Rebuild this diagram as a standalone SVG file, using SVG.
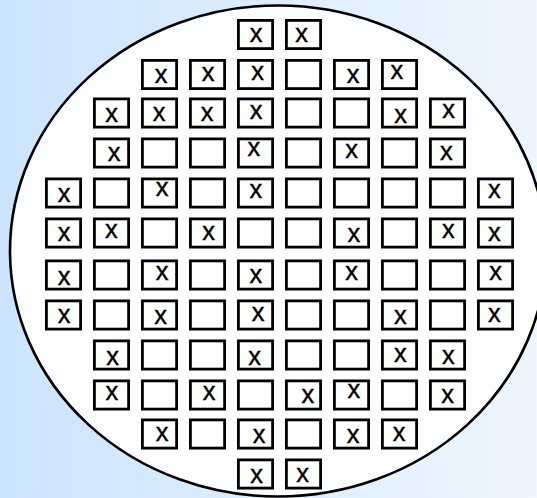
<svg xmlns="http://www.w3.org/2000/svg" xmlns:xlink="http://www.w3.org/1999/xlink" width="537" height="498" viewBox="0 0 537 498">
<style>
.die{fill:#ffffff;stroke:#000;stroke-width:2.8}
.m{font-family:"Liberation Sans",Arial,sans-serif;font-size:25.5px;text-anchor:middle;fill:#000;stroke:#000;stroke-width:0.4}
.wafer{fill:#fcfdff;stroke:#000;stroke-width:2.6}
</style>
<defs>
<linearGradient id="bg" x1="0" y1="0" x2="1" y2="0">
<stop offset="0" stop-color="#cce4fd"/>
<stop offset="1" stop-color="#eef6ff"/>
</linearGradient>
<rect id="d" width="34.2" height="28.2" class="die"/>
</defs>
<rect width="537" height="498" fill="url(#bg)"/>
<g id="wafer"><ellipse class="wafer" cx="278" cy="251" rx="268" ry="245.5"/></g>
<g id="connectors"/>
<g id="dies">
<g id="r0c4"><use xlink:href="#d" x="238.4" y="20.4"/><text class="m" x="256.2" y="42.4">x</text></g>
<g id="r0c5"><use xlink:href="#d" x="286.4" y="20.4"/><text class="m" x="301.7" y="41.7">x</text></g>

<g id="r1c2"><use xlink:href="#d" x="142.4" y="60.4"/><text class="m" x="161" y="82.6">x</text></g>
<g id="r1c3"><use xlink:href="#d" x="190.4" y="60.4"/><text class="m" x="208.2" y="80.9">x</text></g>
<g id="r1c4"><use xlink:href="#d" x="238.4" y="60.4"/><text class="m" x="257.7" y="79.7">x</text></g>
<g id="r1c5"><use xlink:href="#d" x="286.4" y="60.4"/></g>
<g id="r1c6"><use xlink:href="#d" x="334.4" y="60.4"/><text class="m" x="353.1" y="82.8">x</text></g>
<g id="r1c7"><use xlink:href="#d" x="382.4" y="60.4"/><text class="m" x="396.9" y="79.4">x</text></g>

<g id="r2c1"><use xlink:href="#d" x="94.4" y="98.9"/><text class="m" x="111.5" y="122.3">x</text></g>
<g id="r2c2"><use xlink:href="#d" x="142.4" y="98.9"/><text class="m" x="159.2" y="120.8">x</text></g>
<g id="r2c3"><use xlink:href="#d" x="190.4" y="98.9"/><text class="m" x="207.2" y="120.8">x</text></g>
<g id="r2c4"><use xlink:href="#d" x="238.4" y="98.9"/><text class="m" x="256.2" y="119.1">x</text></g>
<g id="r2c5"><use xlink:href="#d" x="286.4" y="98.9"/></g>
<g id="r2c6"><use xlink:href="#d" x="334.4" y="98.9"/></g>
<g id="r2c7"><use xlink:href="#d" x="382.4" y="98.9"/><text class="m" x="400.7" y="123.2">x</text></g>
<g id="r2c8"><use xlink:href="#d" x="430.4" y="98.9"/><text class="m" x="448.6" y="118.1">x</text></g>

<g id="r3c1"><use xlink:href="#d" x="94.4" y="138.9"/><text class="m" x="114.2" y="160.8">x</text></g>
<g id="r3c2"><use xlink:href="#d" x="142.4" y="138.9"/></g>
<g id="r3c3"><use xlink:href="#d" x="190.4" y="138.9"/></g>
<g id="r3c4"><use xlink:href="#d" x="238.4" y="138.9"/><text class="m" x="253.8" y="155.5">x</text></g>
<g id="r3c5"><use xlink:href="#d" x="286.4" y="138.9"/></g>
<g id="r3c6"><use xlink:href="#d" x="334.4" y="138.9"/><text class="m" x="351.5" y="158.3">x</text></g>
<g id="r3c7"><use xlink:href="#d" x="382.4" y="138.9"/></g>
<g id="r3c8"><use xlink:href="#d" x="430.4" y="138.9"/><text class="m" x="446.4" y="159.8">x</text></g>

<g id="r4c0"><use xlink:href="#d" x="46.4" y="178.9"/><text class="m" x="64" y="201.9">x</text></g>
<g id="r4c1"><use xlink:href="#d" x="94.4" y="178.9"/></g>
<g id="r4c2"><use xlink:href="#d" x="142.4" y="178.9"/><text class="m" x="162.2" y="196.3">x</text></g>
<g id="r4c3"><use xlink:href="#d" x="190.4" y="178.9"/></g>
<g id="r4c4"><use xlink:href="#d" x="238.4" y="178.9"/><text class="m" x="255.8" y="197.5">x</text></g>
<g id="r4c5"><use xlink:href="#d" x="286.4" y="178.9"/></g>
<g id="r4c6"><use xlink:href="#d" x="334.4" y="178.9"/></g>
<g id="r4c7"><use xlink:href="#d" x="382.4" y="178.9"/></g>
<g id="r4c8"><use xlink:href="#d" x="430.4" y="178.9"/></g>
<g id="r4c9"><use xlink:href="#d" x="478.4" y="178.9"/><text class="m" x="494.3" y="197.5">x</text></g>

<g id="r5c0"><use xlink:href="#d" x="46.4" y="218.9"/><text class="m" x="64" y="240.5">x</text></g>
<g id="r5c1"><use xlink:href="#d" x="94.4" y="218.9"/><text class="m" x="111.3" y="237.7">x</text></g>
<g id="r5c2"><use xlink:href="#d" x="142.4" y="218.9"/></g>
<g id="r5c3"><use xlink:href="#d" x="190.4" y="218.9"/><text class="m" x="208.6" y="239.8">x</text></g>
<g id="r5c4"><use xlink:href="#d" x="238.4" y="218.9"/></g>
<g id="r5c5"><use xlink:href="#d" x="286.4" y="218.9"/></g>
<g id="r5c6"><use xlink:href="#d" x="334.4" y="218.9"/><text class="m" x="353.9" y="242">x</text></g>
<g id="r5c7"><use xlink:href="#d" x="382.4" y="218.9"/></g>
<g id="r5c8"><use xlink:href="#d" x="430.4" y="218.9"/><text class="m" x="448.3" y="237.7">x</text></g>
<g id="r5c9"><use xlink:href="#d" x="478.4" y="218.9"/><text class="m" x="494.3" y="240.5">x</text></g>

<g id="r6c0"><use xlink:href="#d" x="46.4" y="260.9"/><text class="m" x="64" y="285.1">x</text></g>
<g id="r6c1"><use xlink:href="#d" x="94.4" y="260.9"/></g>
<g id="r6c2"><use xlink:href="#d" x="142.4" y="260.9"/><text class="m" x="162.2" y="279.8">x</text></g>
<g id="r6c3"><use xlink:href="#d" x="190.4" y="260.9"/></g>
<g id="r6c4"><use xlink:href="#d" x="238.4" y="260.9"/><text class="m" x="255.8" y="283.2">x</text></g>
<g id="r6c5"><use xlink:href="#d" x="286.4" y="260.9"/></g>
<g id="r6c6"><use xlink:href="#d" x="334.4" y="260.9"/><text class="m" x="351.5" y="279.8">x</text></g>
<g id="r6c7"><use xlink:href="#d" x="382.4" y="260.9"/></g>
<g id="r6c8"><use xlink:href="#d" x="430.4" y="260.9"/></g>
<g id="r6c9"><use xlink:href="#d" x="478.4" y="260.9"/><text class="m" x="495.5" y="279.8">x</text></g>

<g id="r7c0"><use xlink:href="#d" x="46.4" y="300.9"/><text class="m" x="64" y="322.8">x</text></g>
<g id="r7c1"><use xlink:href="#d" x="94.4" y="300.9"/></g>
<g id="r7c2"><use xlink:href="#d" x="142.4" y="300.9"/><text class="m" x="160.6" y="324.3">x</text></g>
<g id="r7c3"><use xlink:href="#d" x="190.4" y="300.9"/></g>
<g id="r7c4"><use xlink:href="#d" x="238.4" y="300.9"/><text class="m" x="258" y="320.9">x</text></g>
<g id="r7c5"><use xlink:href="#d" x="286.4" y="300.9"/></g>
<g id="r7c6"><use xlink:href="#d" x="334.4" y="300.9"/></g>
<g id="r7c7"><use xlink:href="#d" x="382.4" y="300.9"/><text class="m" x="400.3" y="324.3">x</text></g>
<g id="r7c8"><use xlink:href="#d" x="430.4" y="300.9"/></g>
<g id="r7c9"><use xlink:href="#d" x="478.4" y="300.9"/><text class="m" x="494.3" y="321.9">x</text></g>

<g id="r8c1"><use xlink:href="#d" x="94.4" y="340.9"/><text class="m" x="112.7" y="365.4">x</text></g>
<g id="r8c2"><use xlink:href="#d" x="142.4" y="340.9"/></g>
<g id="r8c3"><use xlink:href="#d" x="190.4" y="340.9"/></g>
<g id="r8c4"><use xlink:href="#d" x="238.4" y="340.9"/><text class="m" x="254.6" y="365.4">x</text></g>
<g id="r8c5"><use xlink:href="#d" x="286.4" y="340.9"/></g>
<g id="r8c6"><use xlink:href="#d" x="334.4" y="340.9"/></g>
<g id="r8c7"><use xlink:href="#d" x="382.4" y="340.9"/><text class="m" x="400.3" y="362">x</text></g>
<g id="r8c8"><use xlink:href="#d" x="430.4" y="340.9"/><text class="m" x="448.3" y="363.9">x</text></g>

<g id="r9c1"><use xlink:href="#d" x="94.4" y="380.9"/><text class="m" x="111.8" y="399.8">x</text></g>
<g id="r9c2"><use xlink:href="#d" x="142.4" y="380.9"/></g>
<g id="r9c3"><use xlink:href="#d" x="190.4" y="380.9"/><text class="m" x="209.2" y="399.8">x</text></g>
<g id="r9c4"><use xlink:href="#d" x="238.4" y="380.9"/></g>
<g id="r9c5"><use xlink:href="#d" x="286.4" y="380.9"/><text class="m" x="307.9" y="403.2">x</text></g>
<g id="r9c6"><use xlink:href="#d" x="334.4" y="380.9"/><text class="m" x="353.9" y="398.3">x</text></g>
<g id="r9c7"><use xlink:href="#d" x="382.4" y="380.9"/></g>
<g id="r9c8"><use xlink:href="#d" x="430.4" y="380.9"/><text class="m" x="447.6" y="403.2">x</text></g>

<g id="r10c2"><use xlink:href="#d" x="142.4" y="419.9"/><text class="m" x="162.2" y="440.9">x</text></g>
<g id="r10c3"><use xlink:href="#d" x="190.4" y="419.9"/></g>
<g id="r10c4"><use xlink:href="#d" x="238.4" y="419.9"/><text class="m" x="259.1" y="442.8">x</text></g>
<g id="r10c5"><use xlink:href="#d" x="286.4" y="419.9"/></g>
<g id="r10c6"><use xlink:href="#d" x="334.4" y="419.9"/><text class="m" x="353.1" y="442.8">x</text></g>
<g id="r10c7"><use xlink:href="#d" x="382.4" y="419.9"/><text class="m" x="399" y="440.9">x</text></g>

<g id="r11c4"><use xlink:href="#d" x="238.4" y="459.9"/><text class="m" x="256.5" y="482.5">x</text></g>
<g id="r11c5"><use xlink:href="#d" x="286.4" y="459.9"/><text class="m" x="302.7" y="482">x</text></g>
</g>
</svg>
